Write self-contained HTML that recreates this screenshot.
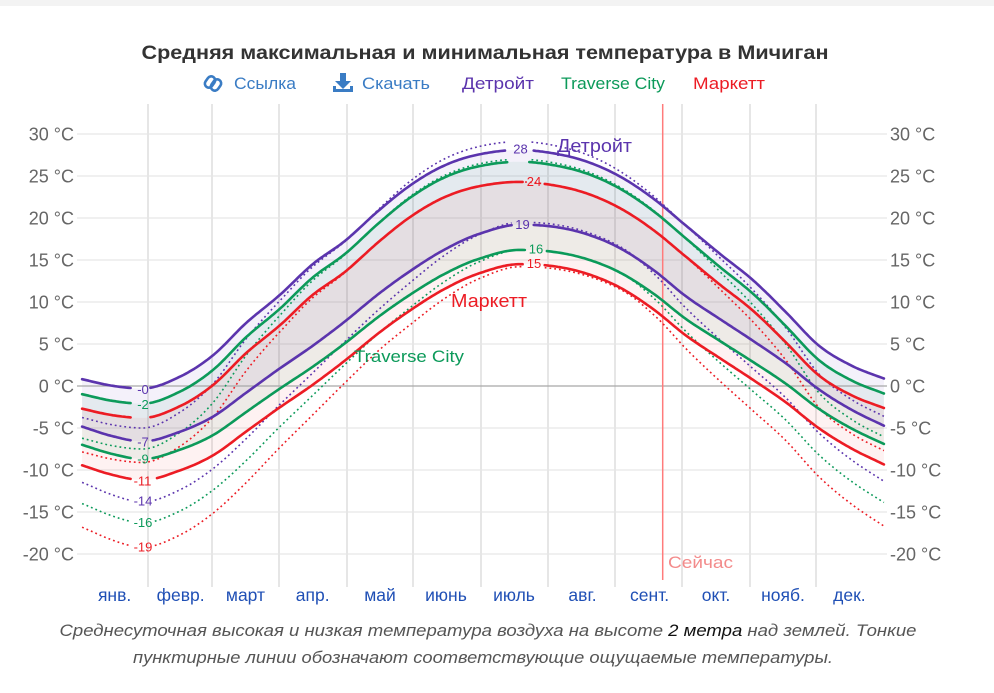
<!DOCTYPE html>
<html>
<head>
<meta charset="utf-8">
<style>
html,body{margin:0;padding:0;background:#fff;}
svg{display:block;font-family:"Liberation Sans","DejaVu Sans",sans-serif;}
</style>
</head>
<body>
<svg id="c" width="994" height="693" viewBox="0 0 994 693" xmlns="http://www.w3.org/2000/svg">
<rect x="0" y="0" width="994" height="6" fill="#f3f3f3"/>

<!-- Title -->
<text x="485" y="59" text-anchor="middle" font-size="19.5" font-weight="bold" fill="#333" textLength="687" lengthAdjust="spacingAndGlyphs">Средняя максимальная и минимальная температура в Мичиган</text>

<!-- Legend row -->
<g fill="none" stroke="#3a7cc4" stroke-width="2.6">
  <rect x="206" y="76" width="8" height="12" rx="4" transform="rotate(35 210 82)"/>
  <rect x="212" y="79" width="8" height="12" rx="4" transform="rotate(35 216 85)"/>
</g>
<text x="234" y="89" font-size="17" fill="#3a7cc4" textLength="62" lengthAdjust="spacingAndGlyphs">Ссылка</text>
<g fill="#3a7cc4">
  <rect x="340" y="73" width="6" height="9"/>
  <polygon points="335,81 351,81 343,89"/>
  <path d="M333,86 h3 v3 h14 v-3 h3 v6 h-20 z"/>
</g>
<text x="362" y="89" font-size="17" fill="#3a7cc4" textLength="68" lengthAdjust="spacingAndGlyphs">Скачать</text>
<text x="462" y="89" font-size="17" fill="#5b34ad" textLength="72" lengthAdjust="spacingAndGlyphs">Детройт</text>
<text x="561" y="89" font-size="17" fill="#0c9a5a" textLength="104" lengthAdjust="spacingAndGlyphs">Traverse City</text>
<text x="693" y="89" font-size="17" fill="#ec1c24" textLength="72" lengthAdjust="spacingAndGlyphs">Маркетт</text>

<!-- Horizontal gridlines -->
<g stroke="#ebebeb" stroke-width="1.5">
  <line x1="77" x2="887" y1="134" y2="134"/>
  <line x1="77" x2="887" y1="176" y2="176"/>
  <line x1="77" x2="887" y1="218" y2="218"/>
  <line x1="77" x2="887" y1="260" y2="260"/>
  <line x1="77" x2="887" y1="302" y2="302"/>
  <line x1="77" x2="887" y1="344" y2="344"/>
  <line x1="77" x2="887" y1="428" y2="428"/>
  <line x1="77" x2="887" y1="470" y2="470"/>
  <line x1="77" x2="887" y1="512" y2="512"/>
  <line x1="77" x2="887" y1="554" y2="554"/>
</g>
<!-- Vertical gridlines -->
<g stroke="#e6e6e6" stroke-width="2">
  <line x1="148" x2="148" y1="104" y2="587"/>
  <line x1="212" x2="212" y1="104" y2="587"/>
  <line x1="279" x2="279" y1="104" y2="587"/>
  <line x1="347" x2="347" y1="104" y2="587"/>
  <line x1="413" x2="413" y1="104" y2="587"/>
  <line x1="481" x2="481" y1="104" y2="587"/>
  <line x1="548" x2="548" y1="104" y2="587"/>
  <line x1="615" x2="615" y1="104" y2="587"/>
  <line x1="682" x2="682" y1="104" y2="587"/>
  <line x1="750" x2="750" y1="104" y2="587"/>
  <line x1="816" x2="816" y1="104" y2="587"/>
</g>

<!-- Y labels -->
<g font-size="18" fill="#666" text-anchor="end">
  <text x="74" y="140.5">30 °C</text>
  <text x="74" y="182.5">25 °C</text>
  <text x="74" y="224.5">20 °C</text>
  <text x="74" y="266.5">15 °C</text>
  <text x="74" y="308.5">10 °C</text>
  <text x="74" y="350.5">5 °C</text>
  <text x="74" y="392.5">0 °C</text>
  <text x="74" y="434.5">-5 °C</text>
  <text x="74" y="476.5">-10 °C</text>
  <text x="74" y="518.5">-15 °C</text>
  <text x="74" y="560.5">-20 °C</text>
</g>
<g font-size="18" fill="#666">
  <text x="890" y="140.5">30 °C</text>
  <text x="890" y="182.5">25 °C</text>
  <text x="890" y="224.5">20 °C</text>
  <text x="890" y="266.5">15 °C</text>
  <text x="890" y="308.5">10 °C</text>
  <text x="890" y="350.5">5 °C</text>
  <text x="890" y="392.5">0 °C</text>
  <text x="890" y="434.5">-5 °C</text>
  <text x="890" y="476.5">-10 °C</text>
  <text x="890" y="518.5">-15 °C</text>
  <text x="890" y="560.5">-20 °C</text>
</g>

<g id="fills"></g>
<line x1="77" x2="887" y1="386" y2="386" stroke="#a8a8a8" stroke-width="1.3"/>
<!-- Now line -->
<line x1="662.7" x2="662.7" y1="104" y2="580" stroke="#ff7b7b" stroke-width="1.5"/>
<text x="668" y="568" font-size="17" fill="#f38b8b" textLength="65" lengthAdjust="spacingAndGlyphs">Сейчас</text>

<g id="dots"></g>
<g id="lines"></g>

<!-- value labels -->
<g font-size="13" text-anchor="middle">
  <text x="143" y="394" fill="#5b34ad">-0</text>
  <text x="143" y="409" fill="#0c9a5a">-2</text>
  <text x="143" y="446.5" fill="#5b34ad">-7</text>
  <text x="143" y="463.5" fill="#0c9a5a">-9</text>
  <text x="142.5" y="485.5" fill="#ec1c24">-11</text>
  <text x="143" y="505.5" fill="#5b34ad">-14</text>
  <text x="143" y="527" fill="#0c9a5a">-16</text>
  <text x="143" y="551.5" fill="#ec1c24">-19</text>
  <text x="520.5" y="153.5" fill="#5b34ad">28</text>
  <text x="534" y="186" fill="#ec1c24">24</text>
  <text x="522.5" y="229" fill="#5b34ad">19</text>
  <text x="536" y="253.5" fill="#0c9a5a">16</text>
  <text x="534" y="268" fill="#ec1c24">15</text>
</g>

<!-- series names -->
<text x="557" y="152" font-size="18" fill="#5b34ad" textLength="75" lengthAdjust="spacingAndGlyphs">Детройт</text>
<text x="451" y="307" font-size="18" fill="#ec1c24" textLength="76" lengthAdjust="spacingAndGlyphs">Маркетт</text>
<text x="354" y="362" font-size="17" fill="#0c9a5a" textLength="110" lengthAdjust="spacingAndGlyphs">Traverse City</text>

<!-- Month labels -->
<g font-size="17.5" fill="#1f4fb5" text-anchor="middle">
  <text x="114.6" y="601">янв.</text>
  <text x="180.6" y="601">февр.</text>
  <text x="245.5" y="601">март</text>
  <text x="312.7" y="601">апр.</text>
  <text x="380" y="601">май</text>
  <text x="446" y="601">июнь</text>
  <text x="514" y="601">июль</text>
  <text x="582.5" y="601">авг.</text>
  <text x="649.6" y="601">сент.</text>
  <text x="716" y="601">окт.</text>
  <text x="783" y="601">нояб.</text>
  <text x="849.4" y="601">дек.</text>
</g>

<!-- Caption -->
<text x="488" y="636" font-size="17" font-style="italic" fill="#555" text-anchor="middle" textLength="857" lengthAdjust="spacingAndGlyphs">Среднесуточная высокая и низкая температура воздуха на высоте <tspan fill="#111">2 метра</tspan> над землей. Тонкие</text>
<text x="483" y="663" font-size="17" font-style="italic" fill="#555" text-anchor="middle" textLength="700" lengthAdjust="spacingAndGlyphs">пунктирные линии обозначают соответствующие ощущаемые температуры.</text>
</svg>

<script>
(function(){
var NS="http://www.w3.org/2000/svg";
var X0=81, DX=804/365;
function yOf(t){return 386-8.4*t;}
function mk(tab){
  var n=tab.length,xs=tab.map(function(p){return p[0];}),ys=tab.map(function(p){return p[1];});
  var m=[];
  for(var i=0;i<n;i++){
    if(i==0) m.push((ys[1]-ys[0])/(xs[1]-xs[0]));
    else if(i==n-1) m.push((ys[n-1]-ys[n-2])/(xs[n-1]-xs[n-2]));
    else if((ys[i]-ys[i-1])*(ys[i+1]-ys[i])<=0) m.push(0);
    else m.push((ys[i+1]-ys[i-1])/(xs[i+1]-xs[i-1]));
  }
  return function(d){
    var i=0; while(i<n-2 && d>xs[i+1]) i++;
    var h=xs[i+1]-xs[i], t=(d-xs[i])/h, t2=t*t, t3=t2*t;
    return (2*t3-3*t2+1)*ys[i]+(t3-2*t2+t)*h*m[i]+(-2*t3+3*t2)*ys[i+1]+(t3-t2)*h*m[i+1];
  };
}
var fH=mk([[0,0.04],[14,0.012],[28,0],[45,0.05],[60,0.14],[75,0.275],[90,0.39],[105,0.52],[120,0.62],[135,0.745],[150,0.855],[165,0.935],[180,0.98],[199,1.0],[215,0.985],[230,0.95],[245,0.887],[260,0.795],[275,0.68],[290,0.565],[305,0.455],[320,0.32],[335,0.18],[350,0.095],[365,0.04]]);
var fL=mk([[0,0.07],[14,0.025],[28,0],[45,0.045],[60,0.115],[75,0.225],[90,0.335],[105,0.44],[120,0.555],[135,0.68],[150,0.79],[165,0.885],[180,0.955],[199,1.0],[215,0.99],[230,0.955],[245,0.89],[260,0.79],[275,0.667],[290,0.565],[305,0.465],[320,0.36],[335,0.24],[350,0.145],[365,0.07]]);
var wH=mk([[0,0.97],[28,1],[45,0.9],[60,0.72],[75,0.4],[90,0.15],[110,0.05],[130,0],[270,0],[285,0.06],[305,0.25],[320,0.4],[335,0.72],[350,0.86],[365,0.96]]);
var wL=mk([[0,0.92],[28,1],[45,0.96],[60,0.86],[75,0.76],[90,0.6],[105,0.45],[120,0.33],[135,0.26],[150,0.2],[165,0.12],[180,0.05],[200,0],[245,0],[262,0.08],[275,0.2],[290,0.34],[305,0.46],[320,0.57],[335,0.72],[350,0.83],[365,0.92]]);

function ser(o){
  return function(d){
    var v=o.f(d), t=o.lo+(o.hi-o.lo)*v;
    if(o.D){ t-=o.D*Math.max(0,o.w(d)); t+=(o.sb||0)*Math.max(0,(v-0.7)/0.3); }
    return t;
  };
}
var P='#5b34ad',G='#0c9a5a',R='#ec1c24';
var S=[
 {lo:-0.3,hi:28.1,f:fH,c:P,g:[[131,150],[507,532]]},
 {lo:-6.6,hi:19.2,f:fL,c:P,g:[[131,151],[512,533]]},
 {lo:-2.1,hi:26.7,f:fH,c:G,g:[[131,150],[508,529]]},
 {lo:-8.7,hi:16.2,f:fL,c:G,g:[[131,152],[527,546]]},
 {lo:-3.8,hi:24.3,f:fH,c:R,g:[[131,150],[523,543]]},
 {lo:-11.2,hi:14.5,f:fL,c:R,g:[[131,155],[523,543]]},
 {lo:-0.3,hi:28.1,f:fH,D:4.7,w:wH,sb:1.0,c:P,dot:1,g:[[509,530]]},
 {lo:-6.6,hi:19.2,f:fL,D:7.2,w:wL,sb:0.3,c:P,dot:1,g:[[131,153],[512,533]]},
 {lo:-2.1,hi:26.7,f:fH,D:5.4,w:wH,sb:0.3,c:G,dot:1,g:[[508,530]]},
 {lo:-8.7,hi:16.2,f:fL,D:7.6,w:wL,sb:0,c:G,dot:1,g:[[131,153],[527,546]]},
 {lo:-3.8,hi:24.3,f:fH,D:5.3,w:wH,sb:0,c:R,dot:1,g:[]},
 {lo:-11.2,hi:14.5,f:fL,D:8.0,w:wL,sb:-0.3,c:R,dot:1,g:[[131,153],[523,543]]}
];
function path(fn,gaps){
  var s='',pen=false;
  for(var d=0.5;d<365;d+=1){
    var x=X0+d*DX,y=yOf(fn(d));
    var ing=false;
    for(var k=0;k<gaps.length;k++){ if(x>gaps[k][0]&&x<gaps[k][1]) ing=true; }
    if(ing){pen=false;continue;}
    s+=(pen?'L':'M')+x.toFixed(1)+','+y.toFixed(1);
    pen=true;
  }
  return s;
}
// fills
var fills=document.getElementById('fills');
var pairs=[[0,1,'rgba(91,52,173,0.065)'],[2,3,'rgba(12,154,90,0.065)'],[4,5,'rgba(236,28,36,0.06)']];
pairs.forEach(function(p){
  var hi=ser(S[p[0]]),lo=ser(S[p[1]]),pts=[];
  for(var d=0.5;d<365;d+=1) pts.push((X0+d*DX).toFixed(1)+','+yOf(hi(d)).toFixed(1));
  for(var d2=364.5;d2>0;d2-=1) pts.push((X0+d2*DX).toFixed(1)+','+yOf(lo(d2)).toFixed(1));
  var e=document.createElementNS(NS,'polygon');
  e.setAttribute('points',pts.join(' '));
  e.setAttribute('fill',p[2]);
  fills.appendChild(e);
});
var gl=document.getElementById('lines'), gd=document.getElementById('dots');
S.forEach(function(o){
  var e=document.createElementNS(NS,'path');
  e.setAttribute('d',path(ser(o),o.g));
  e.setAttribute('fill','none');
  e.setAttribute('stroke',o.c);
  if(o.dot){
    e.setAttribute('stroke-width','1.6');
    e.setAttribute('stroke-dasharray','1.8 3');
    gd.appendChild(e);
  } else {
    e.setAttribute('stroke-width','2.6');
    e.setAttribute('stroke-linejoin','round');
    e.setAttribute('stroke-linecap','round');
    gl.appendChild(e);
  }
});
})();
</script>
</body>
</html>
